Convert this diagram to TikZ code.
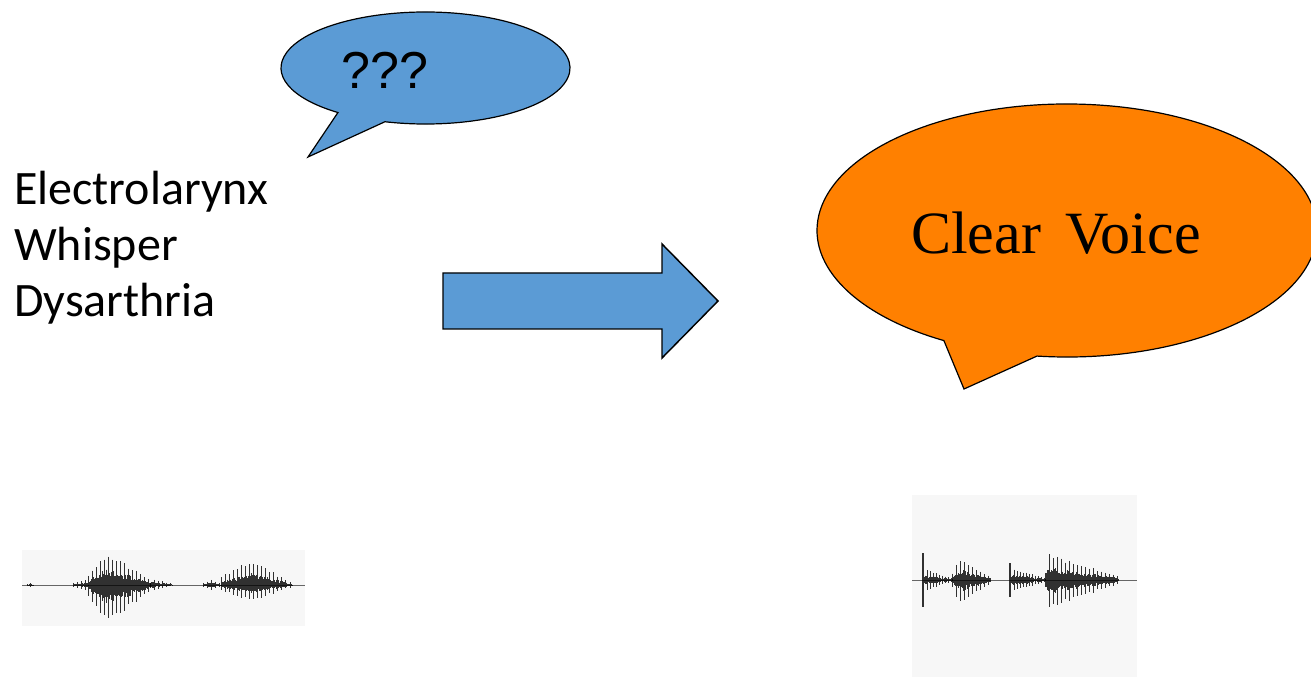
\documentclass[tikz,border=0pt]{standalone}
\usepackage{fontspec}
\setmainfont{Carlito}
\newfontfamily\arialfont{Liberation Sans}
\newfontfamily\timesfont{Liberation Serif}
\usetikzlibrary{calc}

\definecolor{bubbleblue}{RGB}{91,155,213}
\definecolor{bubbleorange}{RGB}{255,128,0}
\definecolor{wavebg}{RGB}{247,247,247}

% one stretch of a waveform: x0, x1, baseline, up amplitude, down amplitude,
% position of the envelope peak (0..1), pitch period in px
\newcommand\wavseg[7]{%
  \pgfmathsetmacro\wavn{int(#2-#1)}%
  \foreach \k in {0,...,\wavn}{%
    \pgfmathsetmacro\wavt{\k/\wavn}%
    \pgfmathsetmacro\wavenv{(\wavt<#6) ? (0.3+0.7*\wavt/#6) : (1-0.85*(\wavt-#6)/(1-#6))}%
    \pgfmathsetmacro\wavp{(mod(\k,#7)==0) ? (0.8+0.2*rnd) : (0.25+0.25*rnd)}%
    \draw[wavline] (#1+\k,#3-#4*\wavenv*\wavp) -- (#1+\k,#3+#5*\wavenv*\wavp);
  }%
}

\tikzset{
  bubble/.style={draw=black, line width=0.9pt, line join=miter},
  bigarrow/.style={draw=black, fill=bubbleblue, line width=1.1pt, line join=miter},
  wavline/.style={black, opacity=0.8, line width=0.7pt},
  wavaxis/.style={black!60, line width=0.6pt},
  wavbox/.style={fill=wavebg, draw=none},
  listtext/.style={anchor=base west, inner sep=0pt, font=\fontsize{36}{42}\selectfont},
}

\begin{document}
\begin{tikzpicture}[x=0.75pt,y=-0.75pt]
\pgfmathsetseed{11}
\useasboundingbox (0,0) rectangle (1311,677);
\clip (0,0) rectangle (1311,677);

% blue thought bubble
\coordinate (bc) at (425.5,68);
\draw[bubble, fill=bubbleblue]
  ($(bc)+(106.3:144.5 and 56)$) arc[start angle=106.3, end angle=-232.7, x radius=144.5, y radius=56]
  -- (308,157) -- cycle;
\node[font=\arialfont\fontsize{39}{45}\selectfont, anchor=base, inner sep=0pt] (q) at (385,89) {???};

% list of voice types
\node[listtext] (l1) at (14,205) {Electrolarynx};
\node[listtext] (l2) at (14,261) {Whisper};
\node[listtext] (l3) at (14,317) {Dysarthria};

% block arrow
\draw[bigarrow] (443,273) -- (662,273) -- (662,244) -- (718,301) -- (662,358) -- (662,329) -- (443,329) -- cycle;

% orange speech bubble
\coordinate (oc) at (1067,230.5);
\draw[bubble, fill=bubbleorange]
  ($(oc)+(96.9:250 and 126.5)$) arc[start angle=96.9, end angle=-240.5, x radius=250, y radius=126.5]
  -- (964,389) -- cycle;
\node[font=\timesfont\fontsize{45}{50}\selectfont, anchor=base, inner sep=0pt] (cv) at (1056,254) {Clear\hspace{0.4em}Voice};

% input waveform
\fill[wavbox] (22,550) rectangle (305,626);
\draw[wavaxis] (22,585) -- (305,585);
\wavseg{27}{33}{585}{2}{2}{0.5}{3}
\wavseg{73}{88}{585}{6}{6}{0.9}{4}
\wavseg{88}{150}{585}{35}{41}{0.3}{4}
\wavseg{150}{172}{585}{7}{6}{0.05}{4}
\wavseg{203}{221}{585}{6}{6}{0.5}{4}
\wavseg{221}{287}{585}{27}{18}{0.45}{4}
\wavseg{288}{292}{585}{3}{3}{0.5}{2}

% output waveform
\fill[wavbox] (912,495) rectangle (1137,677);
\draw[wavaxis] (912,580) -- (1137,580);
\draw[wavline, line width=0.9pt] (923,553) -- (923,607);
\wavseg{924}{952}{580}{11}{11}{0.02}{3}
\wavseg{952}{990}{580}{23}{26}{0.15}{4}
\draw[wavline, line width=0.9pt] (1010,563) -- (1010,597);
\wavseg{1011}{1045}{580}{12}{12}{0.02}{3}
\wavseg{1045}{1118}{580}{27}{29}{0.02}{4}
\end{tikzpicture}
\end{document}
